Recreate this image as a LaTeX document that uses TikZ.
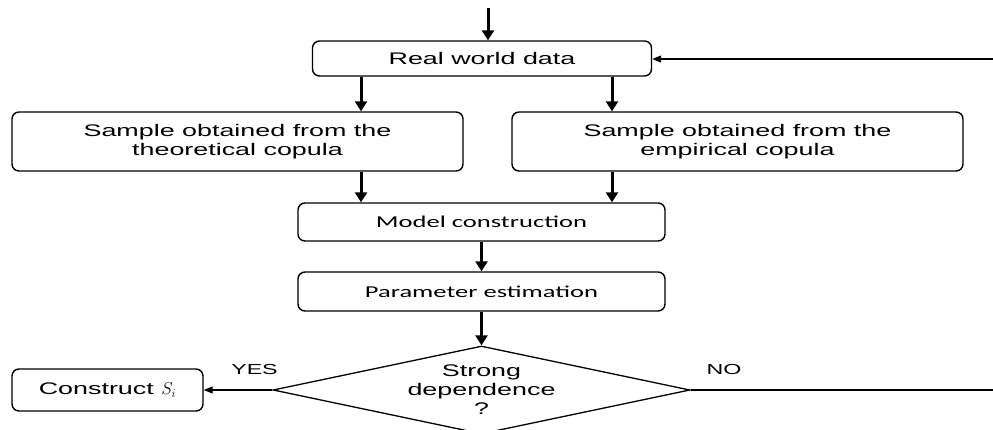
\documentclass[tikz,border=0pt]{standalone}
\usepackage{fontspec}
\setmainfont{Liberation Sans}[FakeStretch=1.6]
\newfontfamily\calfont{Carlito}[FakeStretch=1.6]
\usetikzlibrary{arrows.meta,shapes.geometric}
\begin{document}
\begin{tikzpicture}[x=1pt, y=-1pt,
   font=\fontsize{16.8}{19}\selectfont,
   box/.style = {draw, line width=1.4pt, rounded corners=7pt, inner sep=0pt, align=center},
   flow/.style = {line width=3pt, -{Triangle[length=10pt,width=12pt]}},
   thin/.style = {line width=1.3pt, -{Triangle[length=9pt,width=7pt]}},
   lbl/.style = {font=\fontsize{14.5}{17}\selectfont, above=11pt}]
   \useasboundingbox (0,0) rectangle (993,429);
   \node[box, minimum width=339pt, minimum height=35pt] (RWD) at (482,58.5) {Real world data};
   \node[box, minimum width=451pt, minimum height=59pt] (ST) at (237.5,141.5) {Sample obtained from the\\theoretical copula};
   \node[box, minimum width=451pt, minimum height=59pt] (SE) at (737.5,141.5) {Sample obtained from the\\empirical copula};
   \node[box, minimum width=367pt, minimum height=38pt, font=\calfont\fontsize{16.6}{19}\selectfont] (MC) at (481.5,222) {Model construction};
   \node[box, minimum width=367pt, minimum height=39pt, font=\calfont\fontsize{16.6}{19}\selectfont] (PE) at (481.5,291.5) {Parameter estimation};
   \node[draw, diamond, aspect=4.74, line width=1.3pt, minimum width=417pt, minimum height=88pt, inner sep=0pt, align=center] (SD) at (481.5,390) {Strong\\dependence\\?};
   \node[box, minimum width=191pt, minimum height=42pt] (CS) at (107.5,390) {Construct $S_i$};
   \coordinate (IN) at (488,8);
   \coordinate (FB) at (993,59);
   \coordinate (OUT) at (993,390);
   \coordinate (L) at (361,0);
   \coordinate (R) at (612,0);
   \draw[flow] (IN) -- (IN |- RWD.north);
   \draw[thin] (FB) -- (RWD.east |- FB);
   \draw[flow] (L |- RWD.south) -- (L |- ST.north);
   \draw[flow] (R |- RWD.south) -- (R |- SE.north);
   \draw[flow] (L |- ST.south) -- (L |- MC.north);
   \draw[flow] (R |- SE.south) -- (R |- MC.north);
   \draw[flow] (MC) -- (PE);
   \draw[flow] (PE) -- (SD);
   \draw[thin] (SD) -- node[lbl, pos=0.26] {YES} (CS);
   \draw[line width=1.3pt] (SD) -- node[lbl, pos=0.11] {NO} (OUT);
\end{tikzpicture}
\end{document}
